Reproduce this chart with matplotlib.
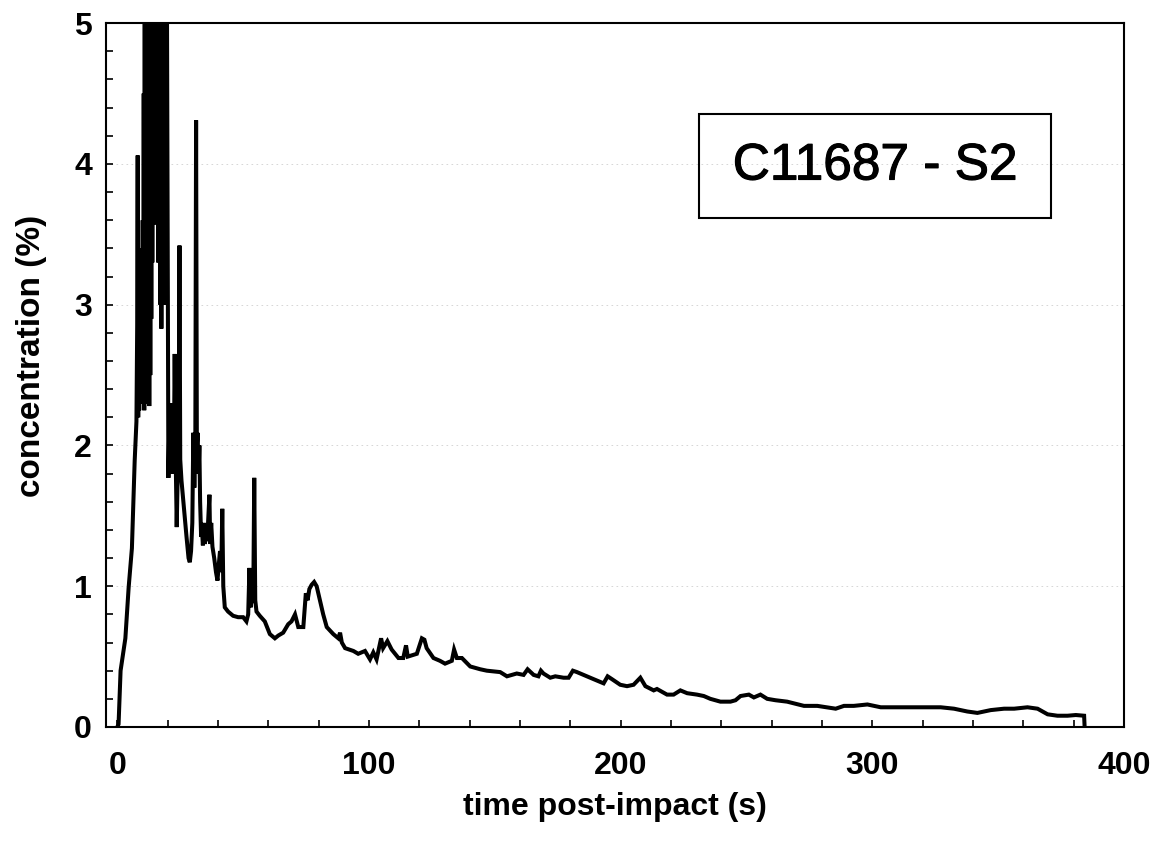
"""
plot.py

Recreate the C11687 - S2 concentration vs. time chart.
"""

#####################################
# Import Modules
#####################################
import matplotlib
matplotlib.use("Agg")
import matplotlib.pyplot as plt
import matplotlib.patheffects as pe
from matplotlib.patches import Rectangle
from matplotlib.ticker import MultipleLocator

#####################################
# Data
#####################################

# time post-impact (s)
time_s = [
    0.0, 0.5, 1.3, 3.2, 4.5, 5.8, 6.3, 6.9, 7.6, 7.9, 8.1, 8.3, 8.5, 8.7, 8.9,
    9.1, 9.3, 9.5, 9.7, 9.9, 10.1, 10.3, 10.5, 10.7, 10.9, 11.1, 11.3, 11.5,
    11.7, 11.9, 12.1, 12.3, 12.5, 12.7, 12.9, 13.1, 13.3, 13.5, 13.7, 13.9,
    14.1, 14.3, 14.5, 14.7, 14.9, 15.1, 15.3, 15.5, 15.7, 15.9, 16.1, 16.3,
    16.5, 16.7, 16.9, 17.1, 17.3, 17.5, 17.7, 17.9, 18.1, 18.3, 18.5, 18.7,
    18.9, 19.1, 19.3, 19.5, 19.7, 20.3, 20.7,
    21.0, 21.3, 21.6, 22.0, 22.4, 22.8, 23.2, 23.6, 24.0, 24.4, 24.7, 25.0,
    25.5, 26.5, 27.5, 28.3, 28.8, 29.3, 29.8, 30.2, 30.6, 31.0, 31.3, 31.6,
    31.9, 32.3, 32.6, 32.9, 33.3, 33.6, 34.0, 34.4, 34.8, 35.3, 35.7, 36.2,
    36.6, 36.9, 37.3, 37.8, 38.5, 39.2, 39.8, 40.3, 40.8, 41.3, 41.7, 42.1,
    42.7, 44.0, 46.0, 48.0, 50.0, 51.3, 52.0, 52.5, 53.0, 53.5, 54.0, 54.4,
    54.8, 55.3, 56.6, 58.6, 60.6, 62.6, 64.0, 65.9, 67.9, 69.2, 70.6, 71.9,
    73.9, 74.9, 75.6, 76.3, 77.2, 78.2, 79.2, 80.5, 81.8, 83.2, 85.8, 87.8,
    88.5, 89.2, 90.5, 93.8, 95.7, 98.4, 100.4, 101.7, 103.0, 104.8, 105.6,
    107.3, 109.0, 111.7, 113.6, 114.7, 115.4, 119.0, 121.0, 122.0, 122.9,
    125.6, 128.2, 130.2, 132.9, 133.8, 134.9, 136.9, 140.2, 144.2, 146.8,
    152.1, 154.8, 158.7, 161.4, 163.0, 165.4, 167.3, 168.3, 169.3, 172.0,
    174.0, 177.3, 179.3, 181.0, 182.6, 185.2, 189.2, 193.2, 194.8, 196.5,
    199.8, 202.5, 205.1, 207.8, 209.8, 213.1, 214.4, 218.4, 221.0, 223.7,
    226.4, 230.3, 233.0, 235.6, 239.6, 243.6, 245.6, 247.6, 250.9, 252.9,
    255.5, 258.2, 261.5, 266.1, 272.8, 278.1, 285.4, 288.7, 292.6, 298.0,
    303.3, 311.2, 319.2, 327.1, 332.4, 337.7, 341.7, 347.0, 352.3, 356.3,
    361.6, 365.6, 369.6, 373.5, 377.5, 380.8, 384.1, 384.3,
]

# concentration (%)
concentration = [
    0.0, 0.02, 0.40, 0.63, 0.99, 1.27, 1.55, 1.89, 2.17, 2.85, 4.06, 2.20, 2.90,
    2.25, 3.00, 2.30, 3.40, 2.35, 3.20, 2.40, 3.60, 2.30, 4.50, 2.25, 5.30,
    2.30, 5.30, 2.40, 5.30, 2.30, 5.30, 2.35, 5.30, 2.28, 5.30, 2.50, 5.30,
    2.90, 5.30, 3.30, 4.90, 3.57, 4.66, 3.60, 5.30, 3.60, 4.70, 3.60, 5.00,
    3.57, 5.30, 3.30, 5.30, 3.40, 5.30, 3.00, 4.80, 2.83, 4.40, 3.35, 5.30,
    3.20, 5.30, 3.30, 5.30, 3.00, 5.30, 3.40, 5.30, 1.77, 2.20,
    1.80, 2.30, 1.85, 2.10, 1.80, 2.65, 1.90, 1.42, 1.80,
    2.00, 3.42, 1.90, 1.75, 1.55, 1.35, 1.20, 1.17, 1.25, 1.45, 2.09, 1.70,
    2.05, 4.31, 2.00, 2.09, 1.80, 2.00, 1.60, 1.35, 1.42, 1.29, 1.45, 1.30,
    1.40, 1.32, 1.50, 1.65, 1.30, 1.45, 1.28, 1.20, 1.10, 1.04, 1.15, 1.25,
    1.10, 1.55, 1.00, 0.85, 0.82, 0.79, 0.78, 0.78, 0.75, 0.80, 1.13, 0.85,
    1.10, 0.88, 1.77, 0.90, 0.82, 0.79, 0.75, 0.66, 0.63, 0.65, 0.67, 0.73,
    0.75, 0.80, 0.71, 0.71, 0.95, 0.90, 0.98, 1.01, 1.03, 1.00, 0.90, 0.80,
    0.71, 0.66, 0.63, 0.67, 0.60, 0.56, 0.54, 0.52, 0.54, 0.48, 0.53, 0.48,
    0.63, 0.56, 0.61, 0.55, 0.49, 0.49, 0.58, 0.50, 0.52, 0.63, 0.62, 0.56,
    0.49, 0.47, 0.45, 0.47, 0.55, 0.49, 0.49, 0.43, 0.41, 0.40, 0.39, 0.36,
    0.38, 0.37, 0.41, 0.37, 0.36, 0.40, 0.38, 0.35, 0.36, 0.35, 0.35, 0.40,
    0.39, 0.37, 0.34, 0.31, 0.36, 0.34, 0.30, 0.29, 0.30, 0.35, 0.29, 0.26,
    0.27, 0.23, 0.23, 0.26, 0.24, 0.23, 0.22, 0.20, 0.18, 0.18, 0.19, 0.22,
    0.23, 0.21, 0.23, 0.20, 0.19, 0.18, 0.15, 0.15, 0.13, 0.15, 0.15, 0.16,
    0.14, 0.14, 0.14, 0.14, 0.13, 0.11, 0.10, 0.12, 0.13, 0.13, 0.14, 0.13,
    0.09, 0.08, 0.08, 0.085, 0.08, 0.0,
]

sample_label = "C11687 - S2"
x_label = "time post-impact (s)"
y_label = "concentration (%)"

#####################################
# Figure set up
#####################################

plt.rcParams["font.family"] = ["Liberation Sans", "DejaVu Sans"]

fig = plt.figure(figsize=(11.57, 8.48), dpi=100)
ax = fig.add_axes([0.0916, 0.1427, 0.880, 0.830])

# faint dotted gridlines, like the scanned original
for level in [1, 2, 3, 4]:
    ax.axhline(level, color="#b0b0b0", linestyle=(0, (2, 4)), linewidth=0.6,
               alpha=0.6, zorder=0)

ax.plot(time_s, concentration, color="black", linewidth=2.9,
        solid_joinstyle="miter", zorder=3)

ax.set_xlim(-4.5, 400)
ax.set_ylim(0, 5)

ax.xaxis.set_major_locator(MultipleLocator(100))
ax.xaxis.set_minor_locator(MultipleLocator(20))
ax.yaxis.set_major_locator(MultipleLocator(1))
ax.yaxis.set_minor_locator(MultipleLocator(0.2))

ax.tick_params(which="both", direction="in", length=5, width=1.2,
               top=False, right=False)
ax.tick_params(axis="x", which="major", labelsize=23, pad=17)
ax.tick_params(axis="y", which="major", labelsize=23, pad=10)
for lbl in ax.get_xticklabels() + ax.get_yticklabels():
    lbl.set_fontweight("bold")

for spine in ax.spines.values():
    spine.set_linewidth(1.5)

ax.set_xlabel(x_label, fontsize=23, fontweight="bold", labelpad=8)
ax.set_ylabel(y_label, fontsize=24, fontweight="bold")
ax.yaxis.set_label_coords(-0.058, 0.527)

# sample label box
ax.add_patch(Rectangle((0.5825, 0.723), 0.3458, 0.1477, transform=ax.transAxes,
                       fill=False, edgecolor="black", linewidth=1.5, zorder=4))
ax.text(0.7554, 0.797, sample_label, transform=ax.transAxes, fontsize=37,
        ha="center", va="center", zorder=5,
        path_effects=[pe.withStroke(linewidth=0.8, foreground="black")])

fig.savefig("out.png", dpi=100)
